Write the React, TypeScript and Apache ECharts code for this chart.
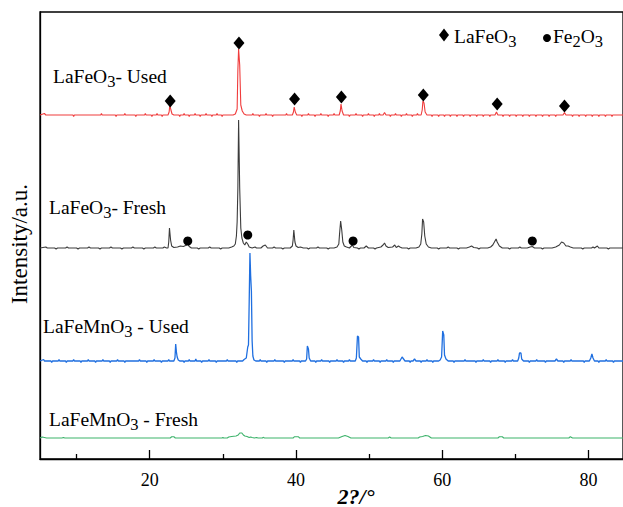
import React, { useEffect, useRef } from 'react';
import * as echarts from 'echarts';

// ---------- data (2θ in degrees, relative intensity in a.u.) ----------
const xTicks = [20, 40, 60, 80];
const xMinorTicks = [10, 30, 50, 70];

const sampleNames = ['LaFeO3- Used', 'LaFeO3- Fresh', 'LaFeMnO3 - Used', 'LaFeMnO3 - Fresh'];
const sampleOffsets = [344, 211, 98, 21];
const sampleColors = ['#f03c3c', '#3c3c3c', '#1f6fe0', '#3db36b'];
const sampleWidths = [1.1, 1.1, 1.3, 1.1];

const usedLaFeO3: number[][] = [
  [5, 0], [5.6, 1.5], [5.8, 0], [9.5, 0], [9.6, -1.5], [9.7, 0], [13.3, 0], [13.4, 1.5], [13.5, 0], [15.3, 0], [15.4, -1.5], [15.5, 0],
  [16.5, 0], [16.6, 1.5], [16.7, 0], [18, 0], [18.1, -1.5], [18.2, 0], [19.3, 0], [19.4, 1.5], [19.5, 0], [20.2, 0], [20.3, -1.5], [20.4, 0],
  [20.9, 0], [21, 1.5], [21.1, 0], [21.6, 0], [21.7, -1.5], [21.8, 0], [22.5, 0], [22.65, 3], [22.75, 10], [22.9, 5], [23.05, 1], [23.3, 0],
  [24, 0], [24.1, -1.5], [24.2, 0], [24.6, 0], [24.7, 1.5], [24.8, 0], [25.3, 0], [25.4, -1.5], [25.5, 0], [26.1, 0], [26.2, 1.5], [26.3, 0],
  [26.8, 0], [26.9, -1.5], [27, 0], [27.6, 0], [27.7, 1.5], [27.8, 0], [28.4, 0], [28.5, -1.5], [28.6, 0], [29.1, 0], [29.2, 1.5], [29.3, 0],
  [29.8, 0], [29.9, -1.5], [30, 0], [31.4, 0], [31.7, 1], [31.95, 6], [32.05, 45], [32.15, 66], [32.3, 50], [32.45, 10], [32.65, 4], [32.9, 1], [33.2, 0],
  [34, 0], [34.1, 1.5], [34.2, 0], [34.9, 0], [35, -1.5], [35.1, 0], [35.8, 0], [35.9, 1.5], [36, 0], [36.7, 0], [36.8, -1.5], [36.9, 0],
  [38.6, 0], [38.7, 1.5], [38.8, 0], [39.5, 0], [39.65, 3], [39.75, 8], [39.9, 3], [40.1, 0],
  [40.7, 0], [40.8, -1.5], [40.9, 0], [41.6, 0], [41.7, 1.5], [41.8, 0], [42.5, 0], [42.6, -1.5], [42.7, 0], [43.3, 0], [43.4, 1.5], [43.5, 0],
  [44.3, 0], [44.4, -1.5], [44.5, 0], [45.1, 0], [45.2, 1.5], [45.3, 0], [45.9, 0], [46.05, 4], [46.15, 11], [46.3, 4], [46.5, 0],
  [47.2, 0], [47.3, -1.5], [47.4, 0], [48.1, 0], [48.2, 1.5], [48.3, 0], [49, 0], [49.1, -1.5], [49.2, 0], [49.8, 0], [49.9, 1.5], [50, 0],
  [50.6, 0], [50.7, -1.5], [50.8, 0], [51.3, 0], [51.4, 1.5], [51.5, 0], [51.9, 0], [52.1, 2.5], [52.3, 0], [52.8, 0], [52.9, -1.5], [53, 0],
  [53.5, 0], [53.6, 1.5], [53.7, 0], [54.3, 0], [54.4, -1.5], [54.5, 0], [55, 0], [55.1, 1.5], [55.2, 0], [55.8, 0], [55.9, -1.5], [56, 0],
  [56.5, 0], [56.6, 1.5], [56.7, 0], [57.1, 0], [57.25, 5], [57.35, 14], [57.5, 12], [57.65, 3], [57.9, 0],
  [58.5, 0], [58.6, -1.5], [58.7, 0], [59.4, 0], [59.5, -1.5], [59.6, 0], [60.2, 0], [60.3, -1.5], [60.4, 0], [61, 0], [61.1, -1.5], [61.2, 0],
  [61.9, 0], [62, -1.5], [62.1, 0], [62.8, 0], [62.9, -1.5], [63, 0], [63.7, 0], [63.8, -1.5], [63.9, 0], [64.6, 0], [64.7, -1.5], [64.8, 0],
  [65.5, 0], [65.6, -1.5], [65.7, 0], [66.4, 0], [66.5, -1.5], [66.6, 0], [67.2, 0], [67.4, 3], [67.6, 0],
  [68.2, 0], [68.3, -1.5], [68.4, 0], [69.1, 0], [69.2, -1.5], [69.3, 0], [70, 0], [70.1, -1.5], [70.2, 0], [70.9, 0], [71, -1.5], [71.1, 0],
  [71.8, 0], [71.9, -1.5], [72, 0], [72.7, 0], [72.8, -1.5], [72.9, 0], [73.6, 0], [73.7, -1.5], [73.8, 0], [74.5, 0], [74.6, -1.5], [74.7, 0],
  [75.4, 0], [75.5, -1.5], [75.6, 0], [76.5, 0], [76.7, 2.5], [76.9, 0],
  [77.7, 0], [77.8, -1.5], [77.9, 0], [78.6, 0], [78.7, -1.5], [78.8, 0], [79.5, 0], [79.6, -1.5], [79.7, 0], [80.4, 0], [80.5, -1.5], [80.6, 0],
  [81.3, 0], [81.4, -1.5], [81.5, 0], [82.2, 0], [82.3, -1.5], [82.4, 0], [83.1, 0], [83.2, -1.5], [83.3, 0], [85, 0],
];

const freshLaFeO3: number[][] = [
  [5, 0], [5.8, 1], [6, 0], [7, 0], [7.2, -1], [7.4, 0], [8.5, 0], [8.7, 1], [8.9, 0], [10, 0], [10.2, -1], [10.4, 0], [11.5, 0], [11.7, 1], [11.9, 0],
  [13, 0], [13.2, -1], [13.4, 0], [14.5, 0], [14.7, 1], [14.9, 0], [16, 0], [16.2, -1], [16.4, 0], [17.5, 0], [17.7, 1], [17.9, 0],
  [19, 0], [19.2, -1], [19.4, 0], [20.5, 0], [20.7, 1], [20.9, 0], [21.8, 0], [22, 1], [22.3, 0],
  [22.5, 0], [22.6, 6], [22.7, 20], [22.85, 8], [23, 2], [23.3, 0.5],
  [23.8, 1], [24.2, 2], [24.6, 1.5], [24.9, 2.5], [25.2, 4], [25.4, 1.5], [25.7, 0],
  [26.5, 0], [26.7, -1], [26.9, 0], [28, 0], [28.2, 1], [28.4, 0], [29.5, 0], [29.7, -1], [29.9, 0], [30.8, 0], [31.2, 1], [31.5, 2],
  [31.7, 4], [31.85, 12], [31.95, 26], [32.05, 60], [32.15, 128], [32.3, 60], [32.45, 20], [32.6, 10], [32.8, 5], [33, 3], [33.2, 6], [33.4, 4], [33.6, 1],
  [34, 0], [34.4, 1], [34.6, 0], [35.2, 0], [35.5, 2], [35.8, 3], [36.1, 0], [36.8, 0], [37, 1], [37.2, 0], [38, 0], [38.2, -1], [38.4, 0], [39.2, 0], [39.5, 2],
  [39.6, 8], [39.7, 18], [39.85, 6], [40, 2], [40.3, 0.5], [40.6, 1], [41, 0], [41.5, 0], [41.7, -1], [41.9, 0], [42.8, 0], [43, 1], [43.2, 0],
  [44.2, 0], [44.4, -1], [44.6, 0], [45.2, 0], [45.6, 1], [45.85, 4],
  [45.95, 14], [46.1, 27], [46.25, 18], [46.4, 6], [46.6, 2], [46.9, 1], [47.3, 0], [47.7, 3], [47.9, 0.5], [48.4, 0], [48.6, -1], [48.8, 0],
  [49.3, 0], [49.6, 2], [49.9, 0], [50.6, 0], [50.8, -1], [51, 0], [51.6, 1], [51.9, 3], [52.1, 5], [52.3, 2], [52.6, 0.5], [53.2, 1], [53.5, 3],
  [53.7, 0.5], [54, 2], [54.2, 1], [54.5, 0], [55.2, 0], [55.4, -1], [55.6, 0], [56.4, 0], [56.8, 1], [57.05, 4], [57.2, 14],
  [57.3, 29], [57.45, 26], [57.6, 12], [57.8, 4], [58.1, 1], [58.5, 0], [59.3, 0], [59.5, -1], [59.7, 0], [60.6, 0], [60.8, 1], [61, 0],
  [62, 0], [62.2, -1], [62.4, 0], [63.3, 0], [63.7, 1], [64, 2], [64.3, 0.5], [64.8, 0], [65, -1], [65.2, 0], [66.2, 0], [66.6, 1],
  [66.9, 3], [67.2, 7], [67.35, 9], [67.5, 6], [67.8, 2], [68.2, 0], [69, 0], [69.2, -1], [69.4, 0], [70.4, 0], [70.6, 1], [70.8, 0],
  [71.6, 0], [72, 1], [72.3, 1.5], [72.6, 0], [73.5, 0], [73.7, -1], [73.9, 0], [75, 0], [75.5, 1],
  [76, 3], [76.3, 6], [76.6, 5], [76.9, 2], [77.2, 2], [77.5, 1], [77.9, 0], [79, 0], [79.2, -1], [79.4, 0], [80.4, 0], [80.6, 1], [80.8, 0],
  [81.2, 2], [81.4, 0], [82.5, 0], [82.7, -1], [82.9, 0], [85, 0],
];

const usedLaFeMnO3: number[][] = [
  [5, 0], [5.5, 1.5], [5.6, 0], [6.5, 0], [6.6, -1.5], [6.7, 0], [7.5, 0], [7.6, 1.5], [7.7, 0], [8.5, 0], [8.6, -1.5], [8.7, 0],
  [9.5, 0], [9.6, 1.5], [9.7, 0], [10.5, 0], [10.6, -1.5], [10.7, 0], [11.5, 0], [11.6, 1.5], [11.7, 0], [12.5, 0], [12.6, -1.5], [12.7, 0],
  [13.5, 0], [13.6, 1.5], [13.7, 0], [14.5, 0], [14.6, -1.5], [14.7, 0], [15.5, 0], [15.6, 1.5], [15.7, 0], [16.5, 0], [16.6, -1.5], [16.7, 0],
  [18.5, 0], [18.6, 1.5], [18.7, 0], [19.5, 0], [19.6, -1.5], [19.7, 0], [20.5, 0], [20.6, 1.5], [20.7, 0], [21.5, 0], [21.6, -1.5], [21.7, 0],
  [22.5, 0], [22.6, 1.5], [22.7, 0], [23.3, 0], [23.45, 3], [23.55, 17], [23.65, 9], [23.75, 4], [23.9, 1], [24.1, 0],
  [24.6, 0], [24.7, -1.5], [24.8, 0], [25.3, 0], [25.4, 1.5], [25.5, 0], [26.2, 0], [26.3, 2], [26.4, 0], [27, 0], [27.1, -1.5], [27.2, 0],
  [28, 0], [28.1, 1.5], [28.2, 0], [29, 0], [29.1, -1.5], [29.2, 0], [30.5, 0], [30.6, 1.5], [30.7, 0], [31.8, 0], [31.9, -1.5], [32, 0],
  [32.7, 0], [32.9, 1.5], [33.2, 3], [33.4, 14], [33.5, 16], [33.6, 60], [33.7, 108], [33.8, 85], [33.9, 70], [34, 20], [34.1, 5], [34.25, 1], [34.5, 0],
  [35, 0], [35.1, 1.5], [35.2, 0], [35.9, 0], [36, -1.5], [36.1, 0], [37, 0], [37.1, 1.5], [37.2, 0], [38.3, 0], [38.4, -1.5], [38.5, 0],
  [39.5, 0], [39.6, 1.5], [39.7, 0], [40.5, 0], [40.6, -1.5], [40.7, 0], [41.3, 0], [41.45, 2], [41.55, 15], [41.7, 12], [41.8, 3], [42, 0],
  [42.6, 0], [42.7, -1.5], [42.8, 0], [43.4, 0], [43.5, 1.5], [43.6, 0], [44.5, 0], [44.6, -1.5], [44.7, 0], [45.5, 0], [45.6, 1.5], [45.7, 0],
  [46.4, 0], [46.5, -1.5], [46.6, 0], [47.2, 0], [47.3, 1.5], [47.4, 0], [48.1, 0], [48.25, 3], [48.4, 25], [48.55, 24], [48.65, 4], [48.85, 2], [49.1, 0],
  [49.6, 0], [49.7, -1.5], [49.8, 0], [50.5, 0], [50.6, 1.5], [50.7, 0], [51.4, 0], [51.5, -1.5], [51.6, 0], [52.3, 0], [52.4, 1.5], [52.5, 0],
  [53.2, 0], [53.3, -1.5], [53.4, 0], [54.2, 0], [54.5, 4], [54.7, 2], [54.9, 0], [55.5, 0], [55.6, -1.5], [55.7, 0], [56, 0], [56.2, 2], [56.4, 0],
  [57, 0], [57.1, -1.5], [57.2, 0], [57.8, 0], [57.9, 1.5], [58, 0], [58.6, 0], [58.7, -1.5], [58.8, 0], [59.5, 0], [59.7, 1], [59.9, 4],
  [60.05, 30], [60.2, 26], [60.3, 6], [60.5, 2], [60.8, 0], [61.5, 0], [61.6, -1.5], [61.7, 0], [63, 0], [63.1, 1.5], [63.2, 0],
  [64.5, 0], [64.6, -1.5], [64.7, 0], [65.5, 0], [65.6, 1.5], [65.7, 0], [66.5, 0], [66.6, -1.5], [66.7, 0], [67.5, 0], [67.6, 1.5], [67.7, 0],
  [68.5, 0], [68.6, -1.5], [68.7, 0], [69.5, 0], [69.6, 1.5], [69.7, 0], [70.3, 0], [70.45, 3], [70.55, 8], [70.75, 8], [70.85, 2], [71.1, 0],
  [71.8, 0], [71.9, -1.5], [72, 0], [72.8, 0], [72.9, 1.5], [73, 0], [74, 0], [74.1, -1.5], [74.2, 0], [75.4, 0], [75.6, 2], [75.8, 0],
  [76.5, 0], [76.6, -1.5], [76.7, 0], [77.5, 0], [77.6, 1.5], [77.7, 0], [79.3, 0], [79.4, -1.5], [79.5, 0], [80.1, 0], [80.3, 3], [80.45, 7], [80.6, 3], [80.8, 0],
  [81.3, 0], [81.4, -1.5], [81.5, 0], [82.3, 0], [82.4, 1.5], [82.5, 0], [83.3, 0], [83.4, -1.5], [83.5, 0], [85, 0],
];

const freshLaFeMnO3: number[][] = [
  [5, 0], [5.3, 1], [5.6, 0.5], [5.9, 0], [8, 0], [8.2, 0.5], [8.4, 0], [12, 0], [15, 0], [18, 0], [20, 0], [22.8, 0], [23, 1.2], [23.3, 1.2], [23.5, 0],
  [25, 0], [28, 0], [29.9, 0], [30, 0.7], [30.1, 0], [30.6, 0], [30.8, 1], [31.2, 1.5], [31.8, 2], [32.1, 3], [32.3, 5], [32.6, 5], [32.8, 3], [33, 2],
  [33.3, 1.5], [33.6, 0.5], [33.8, 1], [34, 0.5], [34.3, 0], [34.6, 0.5], [34.8, 0], [35.4, 0], [35.5, 0.7], [35.7, 0], [38, 0], [39.6, 0], [39.8, 1.3],
  [40.3, 1.3], [40.5, 0], [43, 0], [45.8, 0], [46.3, 1.5], [46.7, 2.5], [47.1, 1.5], [47.5, 0], [50, 0], [52.6, 0], [52.8, 1], [53, 0], [55, 0],
  [56.7, 0], [56.9, 1], [57.3, 1.5], [57.7, 2.5], [58.1, 2], [58.5, 0], [62, 0], [67.6, 0], [67.8, 1.2], [68.2, 1.2], [68.4, 0], [72, 0],
  [77.3, 0], [77.5, 1.3], [77.8, 0], [80, 0], [85, 0],
];

// phase markers: [2θ, absolute height on the stacked axis]
const laFeO3Marks: number[][] = [[22.8, 358], [32.2, 416], [39.8, 360], [46.2, 362], [57.4, 364], [67.5, 355], [76.7, 353]];
const fe2O3Marks: number[][] = [[25.2, 218], [33.4, 224], [47.8, 218], [72.3, 218]];

const xMin = 5;
const xMax = 84.7;
const yMax = 447;

const SERIF = 'Liberation Serif, Times New Roman, serif';

// parts: [text, isSubscript]
function subLabel(x: number, y: number, parts: [string, boolean][], size: number) {
  return {
    type: 'text',
    x,
    y,
    style: {
      text: parts.map(([t, s]) => `{${s ? 's' : 'm'}|${t}}`).join(''),
      align: 'left',
      verticalAlign: 'middle',
      rich: {
        m: { fontSize: size, fontFamily: SERIF, fill: '#000', lineHeight: size + 3, verticalAlign: 'middle' },
        s: { fontSize: size - 3, fontFamily: SERIF, fill: '#000', lineHeight: size - 3, padding: [10, 0, 0, 0], verticalAlign: 'middle' },
      },
    },
  };
}

export default function App() {
  const ref = useRef<HTMLDivElement>(null);
  useEffect(() => {
    if (!ref.current) return;
    const chart = echarts.init(ref.current, undefined, { renderer: 'svg' });
    const traces = [usedLaFeO3, freshLaFeO3, usedLaFeMnO3, freshLaFeMnO3];
    const lineSeries = traces.map((t, i) => ({
      type: 'line',
      name: sampleNames[i],
      data: t.map(([x, y]) => [x, y + sampleOffsets[i]]),
      showSymbol: false,
      symbol: 'none',
      lineStyle: { color: sampleColors[i], width: sampleWidths[i] },
      itemStyle: { color: sampleColors[i] },
      silent: true,
      z: 2,
    }));
    chart.setOption({
      animation: false,
      backgroundColor: '#fff',
      grid: { left: 40, top: 12, right: -3, bottom: 48, show: true, borderColor: '#000', borderWidth: 1.3, containLabel: false },
      xAxis: [
        {
          type: 'value', min: xMin, max: xMax, position: 'bottom',
          axisLine: { show: true, onZero: false, lineStyle: { color: '#000', width: 1.3 } },
          axisTick: { show: true, inside: true, length: 9, customValues: xTicks, lineStyle: { color: '#000', width: 1.3 } },
          axisLabel: { show: true, customValues: xTicks, margin: 12, fontSize: 18, fontFamily: SERIF, color: '#000' },
          splitLine: { show: false },
        },
        {
          type: 'value', min: xMin, max: xMax, position: 'bottom',
          axisLine: { show: false, onZero: false },
          axisTick: { show: true, inside: true, length: 5, customValues: xMinorTicks, lineStyle: { color: '#000', width: 1.3 } },
          axisLabel: { show: false },
          splitLine: { show: false },
        },
      ],
      yAxis: {
        type: 'value', min: 0, max: yMax,
        axisLine: { show: true, lineStyle: { color: '#000', width: 1.3 } },
        axisTick: { show: false },
        axisLabel: { show: false },
        splitLine: { show: false },
      },
      series: [
        ...lineSeries,
        {
          type: 'scatter', name: 'LaFeO3', data: laFeO3Marks, symbol: 'diamond', symbolSize: [11, 13],
          itemStyle: { color: '#000', opacity: 1 }, z: 5, silent: true,
        },
        {
          type: 'scatter', name: 'Fe2O3', data: fe2O3Marks, symbol: 'circle', symbolSize: 9,
          itemStyle: { color: '#000', opacity: 1 }, z: 5, silent: true,
        },
      ],
      graphic: [
        subLabel(53, 76.5, [['LaFeO', false], ['3', true], ['- Used', false]], 19.5),
        subLabel(49, 207.5, [['LaFeO', false], ['3', true], ['- Fresh', false]], 19.5),
        subLabel(43, 326, [['LaFeMnO', false], ['3', true], [' - Used', false]], 19.5),
        subLabel(49, 419.5, [['LaFeMnO', false], ['3', true], [' - Fresh', false]], 19.5),
        { type: 'polygon', shape: { points: [[444, 28.5], [449, 35], [444, 41.5], [439, 35]] }, style: { fill: '#000' } },
        subLabel(454, 36, [['LaFeO', false], ['3', true]], 19.5),
        { type: 'circle', shape: { cx: 547, cy: 38, r: 4 }, style: { fill: '#000' } },
        subLabel(553, 36.5, [['Fe', false], ['2', true], ['O', false], ['3', true]], 19.5),
        {
          type: 'text', x: 19, y: 244, rotation: Math.PI / 2,
          style: { text: 'Intensity/a.u.', fontSize: 23, fontFamily: SERIF, fill: '#000', align: 'center', verticalAlign: 'middle' },
        },
        {
          type: 'text', x: 356, y: 496,
          style: { text: '2?/°', fontSize: 22, fontWeight: 'bold', fontStyle: 'italic', fontFamily: SERIF, fill: '#000', align: 'center', verticalAlign: 'middle' },
        },
      ],
    });
    return () => chart.dispose();
  }, []);
  return <div ref={ref} style={{ position: 'absolute', left: 0, top: 0, width: 623, height: 507 }} />;
}
